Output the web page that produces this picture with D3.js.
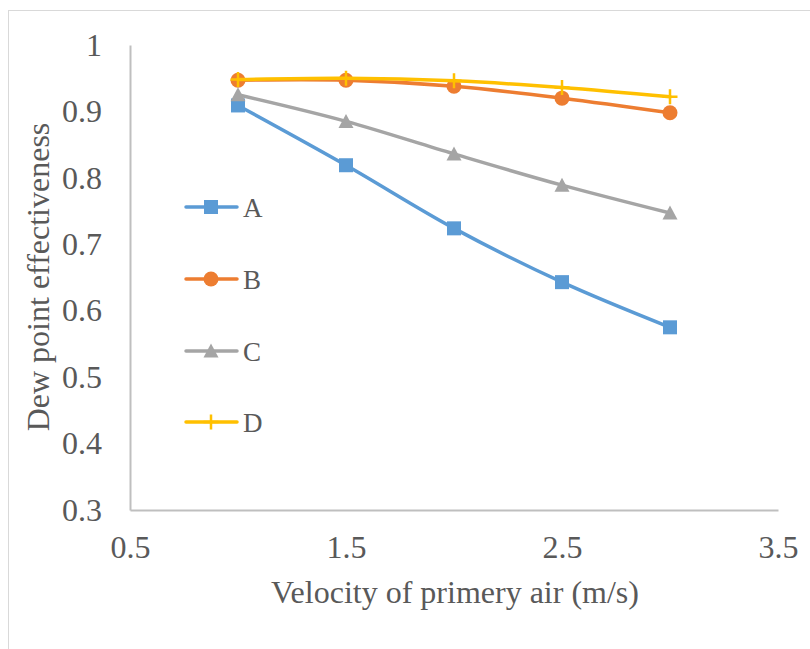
<!DOCTYPE html>
<html>
<head>
<meta charset="utf-8">
<script src="https://cdn.jsdelivr.net/npm/d3@7"></script>
<style>
  html, body { margin: 0; padding: 0; background: #fff; }
  svg { display: block; }
  svg text { font-family: "Liberation Serif", "Times New Roman", "DejaVu Serif", serif !important; fill: #595959; }
</style>
</head>
<body>
<svg id="chart" width="810" height="649"></svg>
<script>
// Primary air velocity (m/s)
const velocity = [1, 1.5, 2, 2.5, 3];

// Dew point effectiveness per configuration
const seriesNames = ["A", "B", "C", "D"];
const valuesA = [0.909, 0.819, 0.724, 0.643, 0.575];
const valuesB = [0.947, 0.947, 0.938, 0.920, 0.898];
const valuesC = [0.925, 0.885, 0.836, 0.789, 0.747];
const valuesD = [0.948, 0.950, 0.946, 0.936, 0.922];

const xTicks = [0.5, 1.5, 2.5, 3.5];
const yTicks = [0.3, 0.4, 0.5, 0.6, 0.7, 0.8, 0.9, 1];

const xTitle = "Velocity of primery air (m/s)";
const yTitle = "Dew point effectiveness";

const colors = { A: "#5B9BD5", B: "#ED7D31", C: "#A5A5A5", D: "#FFC000" };
const markers = { A: "square", B: "circle", C: "triangle", D: "plus" };

const series = [
  { name: "A", values: valuesA },
  { name: "B", values: valuesB },
  { name: "C", values: valuesC },
  { name: "D", values: valuesD }
];

const serif = "'Liberation Serif', 'Times New Roman', serif";
const svg = d3.select("#chart");

// Outer chart frame
svg.append("rect")
  .attr("x", 8.5).attr("y", 10.5)
  .attr("width", 820).attr("height", 660)
  .attr("fill", "none").attr("stroke", "#D9D9D9").attr("stroke-width", 1);

const plot = { left: 130, right: 778, top: 45, bottom: 510 };

const x = d3.scaleLinear().domain([0.5, 3.5]).range([plot.left, plot.right]);
const y = d3.scaleLinear().domain([0.3, 1]).range([plot.bottom, plot.top]);

// Axes: only the axis lines and labels, no tick marks
const xAxis = svg.append("g")
  .attr("transform", `translate(0,${plot.bottom})`)
  .attr("font-family", serif)
  .call(d3.axisBottom(x).tickValues(xTicks).tickSize(0).tickPadding(25).tickFormat(d3.format("")));
xAxis.attr("font-family", serif);
xAxis.select(".domain").attr("stroke", "#BFBFBF").attr("stroke-width", 2);
xAxis.selectAll("text").attr("font-size", 32).attr("fill", "#595959");

const yAxis = svg.append("g")
  .attr("transform", `translate(${plot.left},0)`)
  .call(d3.axisLeft(y).tickValues(yTicks).tickSize(0).tickPadding(28).tickFormat(d3.format("")));
yAxis.attr("font-family", serif);
yAxis.select(".domain").attr("stroke", "#BFBFBF").attr("stroke-width", 2);
yAxis.selectAll("text").attr("font-size", 32).attr("fill", "#595959");

// Axis titles
svg.append("text")
  .attr("x", (plot.left + plot.right) / 2 + 1)
  .attr("y", 603)
  .attr("text-anchor", "middle")
  .attr("font-family", serif)
  .attr("font-size", 32)
  .text(xTitle);

svg.append("text")
  .attr("transform", "translate(49,277) rotate(-90)")
  .attr("text-anchor", "middle")
  .attr("font-family", serif)
  .attr("font-size", 32)
  .text(yTitle);

// Marker drawing helper
function drawMarker(g, type, color) {
  if (type === "square") {
    g.append("rect").attr("x", -7).attr("y", -7).attr("width", 14).attr("height", 14)
      .attr("fill", color);
  } else if (type === "circle") {
    g.append("circle").attr("r", 7.5).attr("fill", color);
  } else if (type === "triangle") {
    g.append("path").attr("d", "M0,-7.5L7.5,6.5L-7.5,6.5Z").attr("fill", color);
  } else if (type === "plus") {
    g.append("path").attr("d", "M-7.5,0H7.5M0,-7.5V7.5")
      .attr("stroke", color).attr("stroke-width", 2.5).attr("fill", "none");
  }
}

const line = d3.line()
  .x((d, i) => x(velocity[i]))
  .y(d => y(d))
  .curve(d3.curveCatmullRom.alpha(0.5));

// Series lines and markers
series.forEach(s => {
  const g = svg.append("g").attr("class", "series-" + s.name);
  g.append("path")
    .attr("d", line(s.values))
    .attr("fill", "none")
    .attr("stroke", colors[s.name])
    .attr("stroke-width", 3.5)
    .attr("stroke-linejoin", "round")
    .attr("stroke-linecap", "round");
  s.values.forEach((v, i) => {
    const m = g.append("g").attr("transform", `translate(${x(velocity[i])},${y(v)})`);
    drawMarker(m, markers[s.name], colors[s.name]);
  });
});

// Legend inside the plot area
const legendY = [207, 279, 351, 422];
seriesNames.forEach((name, i) => {
  const g = svg.append("g").attr("transform", `translate(0,${legendY[i]})`);
  g.append("line")
    .attr("x1", 186).attr("x2", 237).attr("y1", 0).attr("y2", 0)
    .attr("stroke", colors[name]).attr("stroke-width", 3.5)
    .attr("stroke-linecap", "round");
  const m = g.append("g").attr("transform", "translate(211,0)");
  drawMarker(m, markers[name], colors[name]);
  g.append("text")
    .attr("x", 243).attr("y", 10)
    .attr("font-family", serif)
    .attr("font-size", 27)
    .text(name);
});
</script>
</body>
</html>
